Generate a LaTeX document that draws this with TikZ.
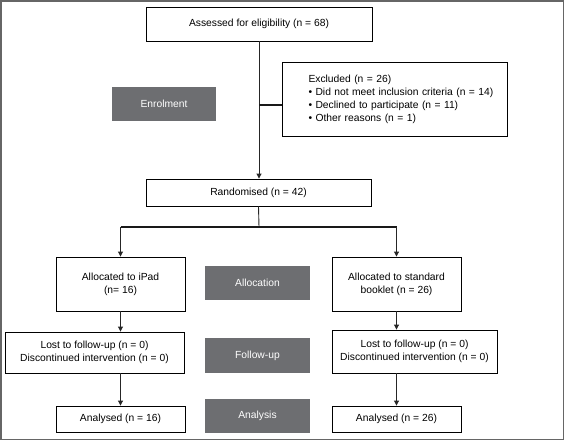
\documentclass[tikz,border=0pt]{standalone}
\usepackage{fontspec}
\setmainfont{Liberation Sans}
\usetikzlibrary{arrows.meta}
\definecolor{phase}{HTML}{6D6E71}
\definecolor{frame}{HTML}{666666}
\tikzset{
  x=1pt,y=-1pt,
  wbox/.style={draw=black,line width=0.9pt,fill=white,inner sep=2pt,align=center,font=\fontsize{10.3}{12.8}\selectfont},
  gbox/.style={fill=phase,text=white,inner sep=0pt,align=center,font=\fontsize{10.3}{12}\selectfont},
  conn/.style={draw=black!85,line width=0.9pt},
  arr/.style={conn,-{Triangle[length=5pt,width=5pt]}},
  branch/.style={draw=black!90,line width=2.4pt},
}
\begin{document}
\begin{tikzpicture}
\useasboundingbox (0,0) rectangle (564,440);
\draw[frame,line width=1.5pt] (0.75,0.75) rectangle (563.25,439.25);

\node[wbox,minimum width=226pt,minimum height=34pt] (assess) at (259,24) {Assessed for eligibility (n = 68)};
\node[wbox,minimum width=225pt,minimum height=74pt,align=left,text width=200pt,inner sep=0pt,font=\fontsize{10.3}{13}\selectfont] (excl) at (394.5,99.5)
  {\hspace*{14pt}Excluded (n = 26)\\\hspace*{14pt}\textbullet{} Did not meet inclusion criteria (n = 14)\\\hspace*{14pt}\textbullet{} Declined to participate (n = 11)\\\hspace*{14pt}\textbullet{} Other reasons (n = 1)};
\node[gbox,minimum width=104pt,minimum height=34pt] (enrol) at (164,104) {Enrolment};
\node[wbox,minimum width=225pt,minimum height=27pt] (rand) at (258.5,192.5) {Randomised (n = 42)};
\node[wbox,minimum width=129pt,minimum height=54pt] (ipad) at (120.5,284) {Allocated to iPad\\(n= 16)};
\node[gbox,minimum width=105pt,minimum height=34pt] (alloc) at (257.5,283) {Allocation};
\node[wbox,minimum width=129pt,minimum height=54pt] (book) at (396.5,284) {Allocated to standard\\booklet (n = 26)};
\node[wbox,minimum width=179pt,minimum height=41pt] (fuL) at (94.5,352.5) {Lost to follow-up (n = 0)\\Discontinued intervention (n = 0)};
\node[gbox,minimum width=105pt,minimum height=35pt] (fu) at (257.5,355.5) {Follow-up};
\node[wbox,minimum width=165pt,minimum height=43pt] (fuR) at (414.5,351.5) {Lost to follow-up (n = 0)\\Discontinued intervention (n = 0)};
\node[wbox,minimum width=129pt,minimum height=26pt] (anL) at (120.5,419) {Analysed (n = 16)};
\node[gbox,minimum width=105pt,minimum height=34pt] (an) at (257.5,416) {Analysis};
\node[wbox,minimum width=129pt,minimum height=26pt] (anR) at (396.5,419) {Analysed (n = 26)};

\coordinate (split) at (259,227);
\draw[arr] (assess.south) -- (assess.south |- rand.north);
\draw[branch] (assess.south |- excl.west) ++(0,5.5) coordinate (j) -- (excl.west |- j);
\draw[conn] (rand.south) -- (split);
\draw[branch] (ipad.north |- split) -- (book.north |- split);
\draw[arr] (ipad.north |- split) -- (ipad.north);
\draw[arr] (book.north |- split) -- (book.north);
\draw[arr] (ipad.south) -- (ipad.south |- fuL.north);
\draw[arr] (book.south) -- (book.south |- fuR.north);
\draw[arr] (ipad.south |- fuL.south) -- (anL.north);
\draw[arr] (book.south |- fuR.south) -- (anR.north);
\end{tikzpicture}
\end{document}
